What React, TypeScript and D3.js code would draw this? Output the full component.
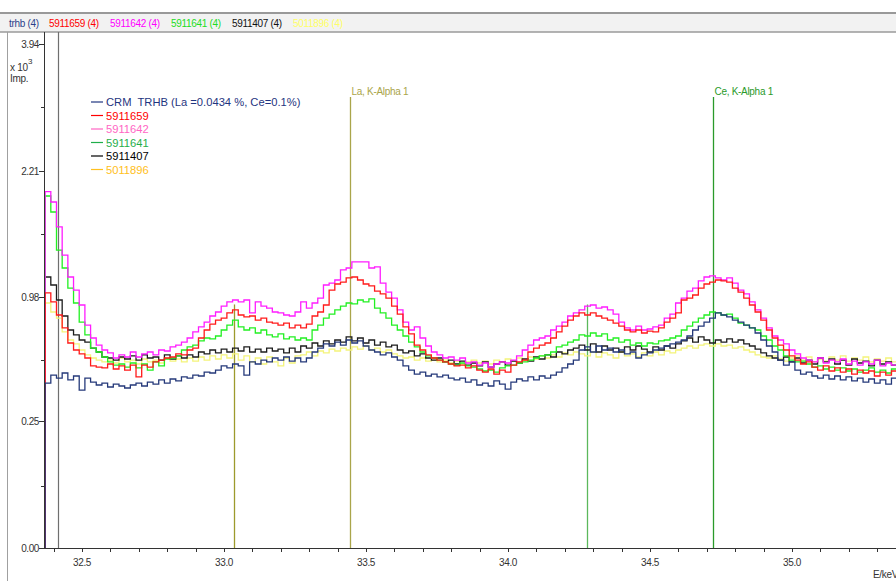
import React from "react";
import * as d3 from "d3";

// spectrum channels (keV)
const channelStart = 32.37;
const channelWidth = 0.02;

const crmTrhb = [
  422, 464, 448, 475, 438, 459, 387, 448, 427, 412,
  422, 402, 417, 407, 397, 412, 422, 407, 427, 417,
  438, 422, 443, 433, 454, 448, 464, 459, 480, 475,
  491, 514, 503, 525, 514, 464, 537, 525, 548, 537,
  560, 548, 566, 542, 560, 537, 560, 596, 620, 646,
  633, 658, 639, 671, 652, 665, 633, 608, 596, 578,
  590, 566, 548, 514, 491, 469, 480, 459, 469, 454,
  464, 448, 438, 448, 427, 438, 412, 422, 407, 433,
  417, 392, 427, 443, 433, 454, 438, 459, 448, 464,
  480, 503, 525, 548, 608, 627, 596, 633, 608, 620,
  596, 608, 584, 596, 560, 578, 590, 608, 620, 633,
  646, 658, 671, 697, 737, 764, 792, 820, 857, 842,
  828, 806, 792, 771, 751, 717, 671, 633, 596, 548,
  519, 537, 491, 469, 480, 459, 448, 464, 443, 459,
  438, 454, 433, 448, 427, 443, 422, 438, 417, 448,
];

const s5911659 = [
  1009, 939, 842, 751, 652, 608, 584, 560, 514, 508,
  503, 525, 497, 514, 491, 519, 454, 519, 508, 537,
  548, 560, 566, 584, 578, 608, 620, 684, 737, 778,
  806, 820, 857, 879, 842, 828, 835, 806, 820, 792,
  785, 771, 785, 751, 771, 751, 778, 835, 864, 916,
  1032, 1081, 1097, 1131, 1139, 1114, 1081, 1065, 1024, 1001,
  969, 908, 849, 758, 711, 639, 608, 578, 560, 548,
  537, 525, 514, 519, 503, 514, 491, 480, 497, 469,
  491, 480, 519, 537, 548, 596, 620, 639, 652, 684,
  724, 764, 806, 835, 857, 842, 857, 835, 820, 806,
  785, 764, 737, 724, 737, 717, 730, 724, 751, 792,
  820, 857, 954, 969, 993, 1048, 1081, 1097, 1114, 1106,
  1097, 1048, 1016, 969, 916, 864, 806, 737, 684, 639,
  608, 572, 548, 525, 537, 508, 491, 514, 486, 503,
  480, 497, 469, 491, 475, 486, 459, 480, 464, 486,
];

const s5911642 = [
  1970, 1857, 1600, 1331, 1139, 1032, 916, 771, 684, 639,
  608, 590, 560, 578, 566, 596, 566, 584, 596, 578,
  608, 602, 627, 639, 658, 684, 724, 758, 792, 835,
  864, 908, 939, 954, 939, 954, 857, 939, 908, 893,
  864, 857, 842, 835, 864, 939, 893, 931, 969, 1073,
  1089, 1114, 1199, 1216, 1270, 1270, 1270, 1216, 1225, 1089,
  1016, 969, 879, 792, 737, 758, 684, 633, 596, 578,
  560, 566, 548, 560, 531, 537, 519, 531, 508, 525,
  537, 531, 548, 572, 608, 639, 671, 684, 697, 737,
  764, 792, 835, 857, 879, 908, 916, 893, 901, 879,
  849, 792, 751, 737, 764, 737, 744, 758, 771, 820,
  849, 931, 969, 1024, 1048, 1106, 1139, 1148, 1131, 1114,
  1131, 1089, 1032, 1001, 939, 879, 820, 751, 697, 671,
  646, 608, 584, 560, 548, 537, 560, 531, 548, 537,
  554, 525, 542, 519, 537, 525, 548, 514, 531, 519,
];

const s5911641 = [
  1922, 1751, 1377, 1216, 1048, 931, 792, 704, 620, 596,
  566, 537, 519, 525, 508, 531, 503, 525, 491, 537,
  514, 554, 560, 572, 608, 627, 639, 665, 684, 678,
  697, 737, 771, 806, 758, 737, 751, 717, 737, 704,
  691, 711, 678, 691, 671, 684, 671, 737, 771, 820,
  849, 879, 908, 931, 924, 954, 939, 962, 893, 857,
  820, 771, 737, 697, 658, 627, 596, 572, 560, 548,
  537, 525, 519, 531, 514, 508, 497, 486, 491, 480,
  503, 514, 519, 531, 537, 548, 560, 572, 578, 596,
  627, 639, 658, 671, 704, 697, 717, 697, 711, 671,
  684, 658, 671, 639, 652, 633, 652, 646, 665, 671,
  684, 697, 737, 764, 792, 820, 842, 864, 857, 842,
  849, 820, 785, 771, 751, 737, 697, 671, 633, 608,
  572, 548, 537, 542, 525, 508, 514, 497, 508, 491,
  503, 486, 497, 480, 491, 503, 480, 491, 475, 497,
];

const s5911407 = [
  1139, 1073, 954, 835, 737, 704, 671, 658, 620, 596,
  566, 560, 548, 566, 554, 572, 548, 578, 560, 566,
  548, 578, 554, 572, 560, 578, 566, 596, 584, 608,
  590, 614, 596, 620, 602, 627, 596, 614, 596, 620,
  602, 614, 590, 620, 596, 633, 620, 652, 633, 665,
  646, 671, 658, 691, 665, 684, 652, 671, 639, 658,
  627, 639, 608, 590, 602, 572, 584, 560, 548, 560,
  537, 548, 525, 542, 519, 531, 514, 537, 508, 525,
  537, 519, 542, 531, 554, 542, 566, 554, 578, 566,
  596, 584, 608, 620, 639, 608, 646, 596, 633, 608,
  620, 596, 627, 608, 633, 614, 596, 627, 608, 633,
  620, 646, 665, 684, 658, 691, 671, 652, 671, 658,
  678, 658, 671, 646, 633, 614, 590, 572, 560, 548,
  566, 537, 560, 531, 548, 525, 560, 537, 554, 525,
  548, 519, 554, 531, 542, 514, 548, 525, 537, 519,
];

const s5011896 = [
  931, 864, 820, 724, 671, 646, 608, 578, 560, 548,
  537, 548, 531, 560, 537, 548, 525, 554, 537, 548,
  531, 560, 542, 554, 537, 560, 542, 566, 548, 572,
  554, 578, 560, 584, 548, 572, 537, 560, 525, 566,
  537, 514, 560, 531, 572, 578, 596, 572, 602, 590,
  614, 602, 620, 608, 627, 614, 633, 608, 620, 596,
  608, 584, 572, 560, 566, 548, 560, 542, 548, 537,
  548, 531, 542, 525, 537, 548, 531, 542, 525, 548,
  537, 554, 542, 560, 548, 566, 554, 572, 560, 578,
  566, 590, 578, 596, 584, 572, 596, 566, 590, 578,
  560, 596, 572, 584, 566, 590, 572, 596, 578, 602,
  590, 608, 620, 633, 620, 639, 646, 633, 646, 633,
  639, 620, 627, 608, 596, 578, 566, 560, 572, 554,
  542, 560, 572, 548, 566, 537, 554, 542, 566, 548,
  572, 542, 560, 548, 566, 537, 554, 542, 560, 537,
];

const legendNames = [
  "CRM  TRHB (La =0.0434 %, Ce=0.1%)",
  "5911659",
  "5911642",
  "5911641",
  "5911407",
  "5011896",
];
const tabNames = ["trhb (4)", "5911659 (4)", "5911642 (4)", "5911641 (4)", "5911407 (4)", "5011896 (4)"];
const tabX = [9, 49, 110, 171, 232, 293];

const yTicks = [0, 250, 980, 2210, 3940];
const yTickLabels = ["0.00", "0.25", "0.98", "2.21", "3.94"];
const yMinorTicks = [60, 550, 1530, 3020];
const xTicks = [32.5, 33.0, 33.5, 34.0, 34.5, 35.0];
const xMinorTicks = d3.range(324, 354).map((d) => d / 10);

const markerEnergy = [33.034, 33.442, 34.279, 34.72];
const markerIntensity = [54, 100, 54, 100];
const markerLabel = ["", "La, K-Alpha 1", "", "Ce, K-Alpha 1"];
const markerColor = ["#9d9a2c", "#aaa54a", "#5cb85c", "#2a9a2a"];

const W = 896;
const H = 581;
const font = "'Liberation Sans', Arial, sans-serif";

export default function App() {
  const x = d3.scaleLinear().domain([32.366, 35.366]).range([44, 896]);
  const y = d3.scaleSqrt().domain([0, 3940]).range([548, 44]);
  const mk = d3.scaleLinear().domain([0, 100]).range([548, 97]);

  const series = [
    { data: s5011896, line: "#f4f47a", legend: "#ffc020" },
    { data: s5911407, line: "#1c1c1c", legend: "#000000" },
    { data: s5911641, line: "#22f022", legend: "#1fae4a" },
    { data: s5911642, line: "#ff1cff", legend: "#ff66c4" },
    { data: s5911659, line: "#ff1a1a", legend: "#ff0000" },
    { data: crmTrhb, line: "#25397a", legend: "#1f3580" },
  ];
  const legendOrder = [5, 4, 3, 2, 1, 0];
  const tabColors = ["#2b3f8a", "#ff0000", "#ff00ff", "#22dd22", "#111111", "#ffff66"];

  const step = d3
    .line<[number, number]>()
    .x((d) => x(d[0]))
    .y((d) => y(d[1]))
    .curve(d3.curveStepAfter);

  const pathFor = (vals: number[]) => {
    const pts: [number, number][] = [[channelStart, 0]];
    vals.forEach((v, i) => pts.push([channelStart + i * channelWidth, v]));
    pts.push([channelStart + vals.length * channelWidth, vals[vals.length - 1]]);
    return step(pts) || "";
  };

  return (
    <svg
      width={W}
      height={H}
      style={{ position: "absolute", left: 0, top: 0, background: "#fff" }}
      fontFamily={font}
    >
      <defs>
        <clipPath id="plot">
          <rect x={44} y={33} width={W - 44} height={548 - 33 + 1} />
        </clipPath>
      </defs>

      {/* top tab strip */}
      <rect x={0} y={13} width={W} height={19} fill="#f2f2f2" />
      <line x1={0} x2={W} y1={13} y2={13} stroke="#999" strokeWidth={2} />
      <line x1={0} x2={W} y1={32} y2={32} stroke="#9a9a9a" strokeWidth={1.5} />
      {tabNames.map((t, i) => (
        <text key={t} x={tabX[i]} y={27} fontSize={10} fill={tabColors[i]} letterSpacing={-0.3}>
          {t}
        </text>
      ))}

      <line x1={7.5} x2={7.5} y1={32} y2={H} stroke="#a0a0a0" />

      {/* element markers */}
      {markerEnergy.map((e, i) => (
        <g key={e}>
          <line
            x1={Math.round(x(e)) + 0.5}
            x2={Math.round(x(e)) + 0.5}
            y1={mk(markerIntensity[i])}
            y2={548}
            stroke={markerColor[i]}
            strokeWidth={1.3}
          />
          {markerLabel[i] && (
            <text x={x(e) + 2} y={mk(markerIntensity[i]) - 2} fontSize={10} fill={markerColor[i]} letterSpacing={-0.3}>
              {markerLabel[i]}
            </text>
          )}
        </g>
      ))}

      {/* cursor line */}
      <line x1={58.5} x2={58.5} y1={32} y2={548} stroke="#6f6f6f" strokeWidth={1.2} />

      {/* spectra */}
      <g clipPath="url(#plot)">
        {series.map((s, i) => (
          <path key={i} d={pathFor(s.data)} fill="none" stroke={s.line} strokeWidth={1.3} />
        ))}
      </g>

      {/* y axis */}
      <line x1={44.5} x2={44.5} y1={32} y2={548} stroke="#333" />
      {yTicks.map((t, i) => (
        <g key={t}>
          <line x1={39} x2={44} y1={Math.round(y(t)) + 0.5} y2={Math.round(y(t)) + 0.5} stroke="#333" />
          <text x={39} y={y(t) + 4} fontSize={10} textAnchor="end" fill="#333" letterSpacing={-0.4}>
            {yTickLabels[i]}
          </text>
        </g>
      ))}
      {yMinorTicks.map((t) => (
        <line key={t} x1={41} x2={44} y1={Math.round(y(t)) + 0.5} y2={Math.round(y(t)) + 0.5} stroke="#333" />
      ))}
      <text x={10} y={71} fontSize={10} fill="#333" letterSpacing={-0.3}>
        x 10
      </text>
      <text x={28} y={64} fontSize={8} fill="#333">
        3
      </text>
      <text x={10} y={82} fontSize={10} fill="#333" letterSpacing={-0.3}>
        Imp.
      </text>

      {/* x axis */}
      <line x1={44} x2={W} y1={548.5} y2={548.5} stroke="#333" />
      {xMinorTicks.map((t) => (
        <line key={t} x1={Math.round(x(t)) + 0.5} x2={Math.round(x(t)) + 0.5} y1={548} y2={552} stroke="#333" />
      ))}
      {xTicks.map((t) => (
        <text key={t} x={x(t)} y={566} fontSize={10} textAnchor="middle" fill="#333" letterSpacing={-0.4}>
          {t.toFixed(1)}
        </text>
      ))}
      <text x={873} y={578} fontSize={10} fill="#333" letterSpacing={-0.3}>
        E/keV
      </text>

      {/* legend */}
      {legendOrder.map((si, r) => (
        <g key={r} transform={`translate(91, ${106 + r * 13.5})`}>
          <line x1={0} x2={12} y1={-4} y2={-4} stroke={series[si].legend} strokeWidth={1.2} />
          <text x={15} y={0} fontSize={11.2} fill={series[si].legend} style={{ whiteSpace: "pre" }}>
            {legendNames[r]}
          </text>
        </g>
      ))}
    </svg>
  );
}
